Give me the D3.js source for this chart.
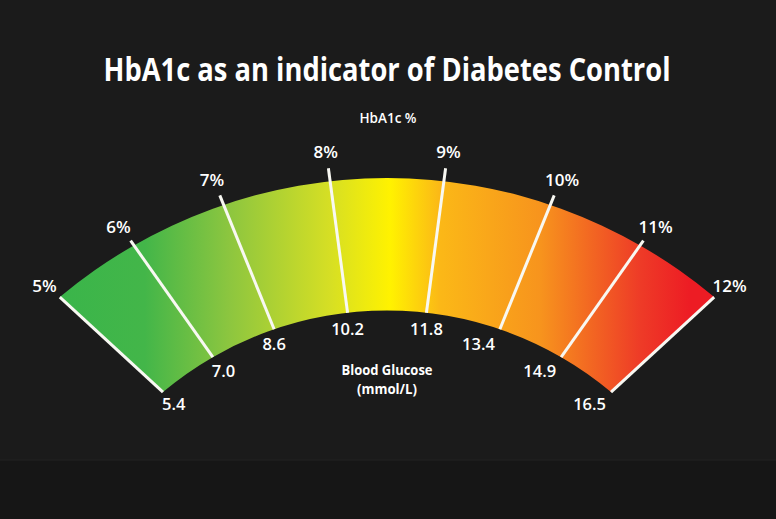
<!DOCTYPE html>
<html>
<head>
<meta charset="utf-8">
<script src="https://cdn.jsdelivr.net/npm/d3@7"></script>
<style>
  html, body { margin: 0; padding: 0; background: #1b1b1b; }
  svg { display: block; }
  text { font-family: "Open Sans", "Noto Sans", sans-serif; fill: #ffffff; }
</style>
</head>
<body>
<svg id="chart" width="776" height="519"></svg>
<script>
// ---- data ----
const hba1cValues = [5, 6, 7, 8, 9, 10, 11, 12];
const hba1cLabels = ["5%", "6%", "7%", "8%", "9%", "10%", "11%", "12%"];
const glucoseLabels = ["5.4", "7.0", "8.6", "10.2", "11.8", "13.4", "14.9", "16.5"];
const titleText = "HbA1c as an indicator of Diabetes Control";
const topAxisTitle = "HbA1c %";
const bottomAxisTitle = ["Blood Glucose", "(mmol/L)"];
const gradientStops = [
  [0.000, "#3ab54a"], [0.130, "#43b649"], [0.260, "#8dc63f"], [0.413, "#d6df24"],
  [0.505, "#fff200"], [0.581, "#fbb817"], [0.734, "#f7941d"], [0.887, "#ee3b27"],
  [0.963, "#ed1c24"], [1.000, "#ed1c24"]
];

// ---- layout ----
const W = 776, H = 519;
const cx = 387;
const outer = { cy: 687, r: 509 };
const inner = { cy: 659, r: 348.5 };
const maxAng = 40 * Math.PI / 180;
const cornerX = cx - outer.r * Math.sin(maxAng), cornerY = outer.cy - outer.r * Math.cos(maxAng);
const tipCircle = { cy: 635 };
tipCircle.r = Math.hypot(cx - cornerX, tipCircle.cy - cornerY);
const tipMaxAng = Math.asin((cx - cornerX) / tipCircle.r);

const svg = d3.select("#chart");

// background
svg.append("rect").attr("width", W).attr("height", H).attr("fill", "#1b1b1b");
svg.append("rect").attr("y", 460).attr("width", W).attr("height", H - 460).attr("fill", "#161616");
svg.append("line").attr("x1", 0).attr("x2", W).attr("y1", 460).attr("y2", 460)
  .attr("stroke", "#222222").attr("stroke-width", 1);

// gradient
const defs = svg.append("defs");
const grad = defs.append("linearGradient").attr("id", "bandGrad")
  .attr("gradientUnits", "userSpaceOnUse")
  .attr("x1", cornerX).attr("x2", 2 * cx - cornerX).attr("y1", 0).attr("y2", 0);
grad.selectAll("stop").data(gradientStops).join("stop")
  .attr("offset", d => d[0]).attr("stop-color", d => d[1]);

// value -> normalized position (-1..1), slightly warped like the original artwork
const pos = d3.scaleLinear().domain(d3.extent(hba1cValues)).range([-1, 1]);
const warp = t => t + 0.045 * Math.sin(Math.PI * t);

function pointOn(circle, ang) {
  return [cx + circle.r * Math.sin(ang), circle.cy - circle.r * Math.cos(ang)];
}

// band shape
const p = d3.path();
const a0 = -Math.PI / 2 - maxAng, a1 = -Math.PI / 2 + maxAng;
const oStart = pointOn(outer, -maxAng);
p.moveTo(oStart[0], oStart[1]);
p.arc(cx, outer.cy, outer.r, a0, a1, false);
const iEnd = pointOn(inner, maxAng);
p.lineTo(iEnd[0], iEnd[1]);
p.arc(cx, inner.cy, inner.r, a1, a0, true);
p.closePath();
svg.append("path").attr("d", p.toString()).attr("fill", "url(#bandGrad)");

// ticks
const ticks = hba1cValues.map((v, i) => {
  const t = warp(pos(v));
  const top = pointOn(tipCircle, t * tipMaxAng);
  const bot = pointOn(inner, t * maxAng);
  const len = Math.hypot(top[0] - bot[0], top[1] - bot[1]);
  const dir = [(top[0] - bot[0]) / len, (top[1] - bot[1]) / len];
  return { i, v, top, bot, dir, pct: hba1cLabels[i], glu: glucoseLabels[i] };
});

svg.append("g").selectAll("line").data(ticks).join("line")
  .attr("x1", d => d.top[0]).attr("y1", d => d.top[1])
  .attr("x2", d => d.bot[0]).attr("y2", d => d.bot[1])
  .attr("stroke", "#f8f8f2").attr("stroke-width", 3);

// percent labels
const pctSize = 17;
svg.append("g").selectAll("text").data(ticks).join("text")
  .attr("x", d => d.top[0] + d.dir[0] * 21)
  .attr("y", d => d.top[1] + d.dir[1] * 17 + pctSize * 0.36)
  .attr("text-anchor", "middle")
  .attr("font-size", pctSize).attr("font-weight", 600)
  .text(d => d.pct);

// glucose labels
const gluSize = 16.5;
svg.append("g").selectAll("text").data(ticks).join("text")
  .attr("x", d => d.i <= 1 ? d.bot[0] - 1 : (d.i >= 5 ? d.bot[0] - 5 : d.bot[0]))
  .attr("y", d => d.bot[1] - d.dir[1] * 13 + 3 + gluSize * 0.36)
  .attr("text-anchor", d => d.i <= 1 ? "start" : (d.i >= 5 ? "end" : "middle"))
  .attr("font-size", gluSize).attr("font-weight", 600)
  .text(d => d.glu);

// titles
svg.append("text").attr("x", cx).attr("y", 81).attr("text-anchor", "middle")
  .attr("font-size", 32).attr("font-weight", 700)
  .attr("textLength", 567).attr("lengthAdjust", "spacingAndGlyphs")
  .text(titleText);

svg.append("text").attr("x", 388).attr("y", 123).attr("text-anchor", "middle")
  .attr("font-size", 13.5).attr("font-weight", 600)
  .text(topAxisTitle);

svg.append("text").attr("x", 387).attr("y", 375).attr("text-anchor", "middle")
  .attr("font-size", 13.5).attr("font-weight", 700)
  .attr("textLength", 91).attr("lengthAdjust", "spacingAndGlyphs")
  .text(bottomAxisTitle[0]);
svg.append("text").attr("x", 387).attr("y", 394).attr("text-anchor", "middle")
  .attr("font-size", 13.5).attr("font-weight", 700)
  .attr("textLength", 60).attr("lengthAdjust", "spacingAndGlyphs")
  .text(bottomAxisTitle[1]);
</script>
</body>
</html>
